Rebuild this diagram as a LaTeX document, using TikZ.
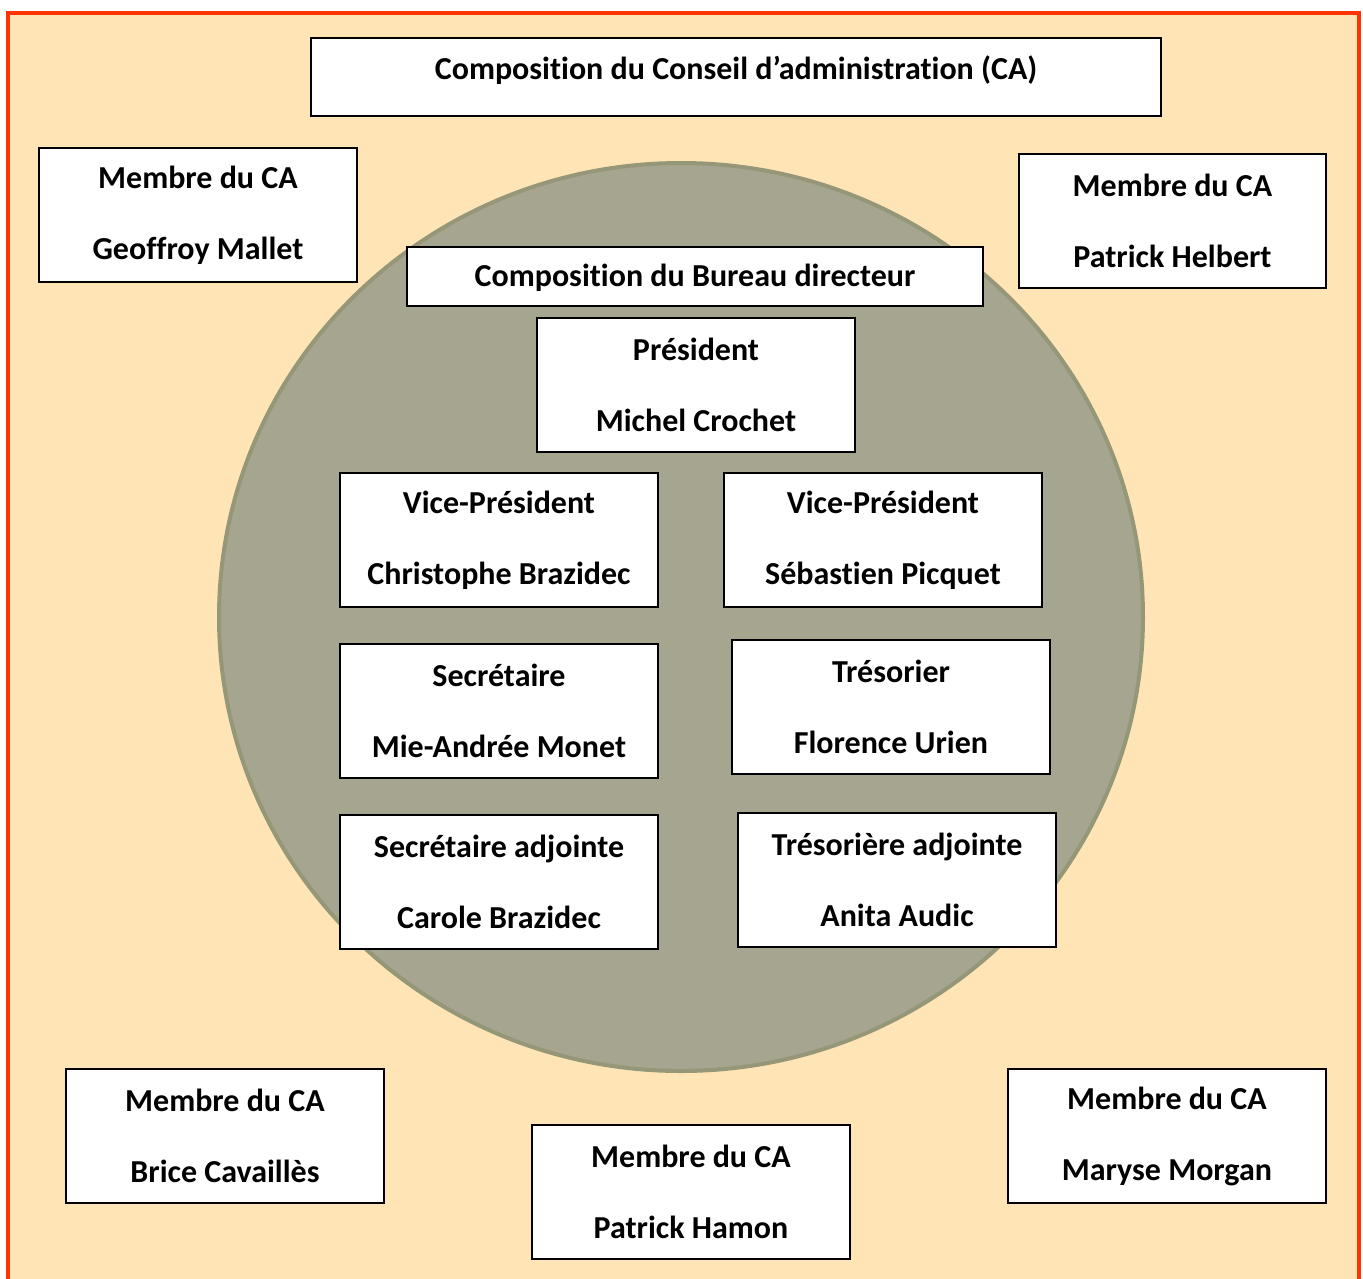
\documentclass[tikz,border=0pt]{standalone}
\usepackage{fontspec}
\setmainfont[Ligatures=NoCommon]{Carlito}
\definecolor{framered}{RGB}{255,51,0}
\definecolor{peach}{RGB}{255,229,181}
\definecolor{disk}{RGB}{166,166,144}
\definecolor{diskedge}{RGB}{150,150,120}
\tikzset{
  cabox/.style={draw=black, line width=2pt, fill=white, minimum width=318pt, minimum height=134pt, inner sep=0pt, align=center, font=\fontsize{32}{71}\selectfont\bfseries},
  widebox/.style={draw=black, line width=2pt, fill=white, inner sep=0pt},
  label/.style={inner sep=0pt, font=\fontsize{32}{38}\selectfont\bfseries},
}
\begin{document}
\begin{tikzpicture}[x=1pt,y=-1pt]
\useasboundingbox (0,0) rectangle (1363,1278);
\fill[white] (0,0) rectangle (1363,1278);
\draw[framered, fill=peach, line width=4pt] (8,13) rectangle (1359,1300);
\draw[diskedge, fill=disk, line width=4pt] (681,617) ellipse [x radius=462, y radius=454];

\node[widebox, minimum width=850pt, minimum height=78pt] (cabox) at (736,77) {};
\node[label] (catitle) at (736,70) {Composition du Conseil d’administration (CA)};

\node[cabox] (mallet) at (198,215) {Membre du CA\\Geoffroy Mallet};
\node[cabox, minimum width=307pt] (helbert) at (1172.5,221) {Membre du CA\\Patrick Helbert};

\node[widebox, minimum width=576pt, minimum height=59pt] (bureau) at (695,276) {};
\node[label] (bureautitle) at (695,278) {Composition du Bureau directeur};

\node[cabox] (president) at (696,385) {Président\\Michel Crochet};
\node[cabox] (vp1) at (499,540) {Vice-Président\\Christophe Brazidec};
\node[cabox] (vp2) at (883,540) {Vice-Président\\Sébastien Picquet};
\node[cabox] (secr) at (499,711) {Secrétaire\\Mie-Andrée Monet};
\node[cabox] (tres) at (891,707) {Trésorier\\Florence Urien};
\node[cabox] (secradj) at (499,882) {Secrétaire adjointe\\Carole Brazidec};
\node[cabox] (tresadj) at (897,880) {Trésorière adjointe\\Anita Audic};

\node[cabox] (cavailles) at (225,1136) {Membre du CA\\Brice Cavaillès};
\node[cabox] (hamon) at (691,1192) {Membre du CA\\Patrick Hamon};
\node[cabox] (morgan) at (1167,1136) {Membre du CA\\Maryse Morgan};
\end{tikzpicture}
\end{document}
